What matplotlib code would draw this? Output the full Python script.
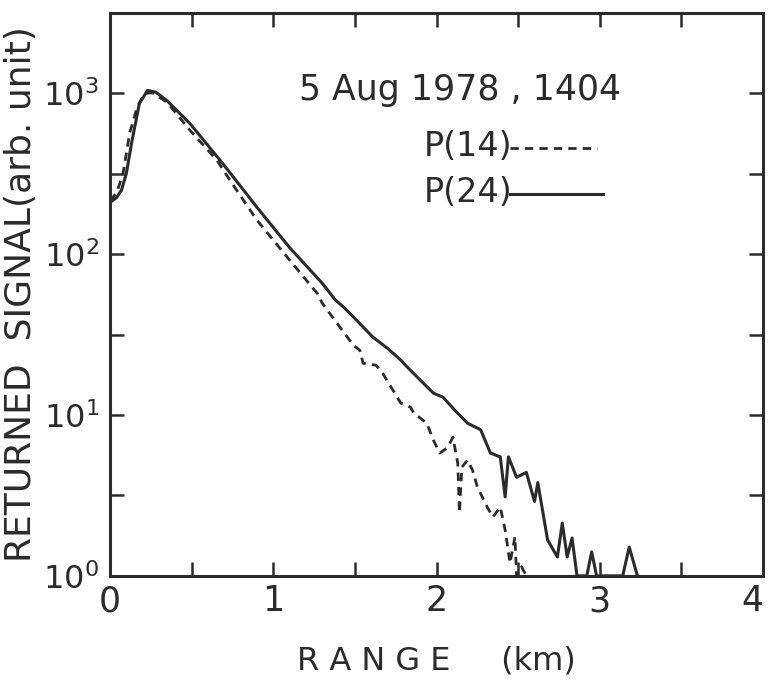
import numpy as np
import matplotlib
matplotlib.use('Agg')
import matplotlib.pyplot as plt
from matplotlib.ticker import FixedLocator, FixedFormatter

# Returned lidar signal
range_p24 = [0.0, 0.04, 0.07, 0.10, 0.135, 0.18, 0.23, 0.28, 0.35, 0.49, 0.69, 0.90,
             1.10, 1.30, 1.38, 1.43, 1.52, 1.61, 1.70, 1.78, 1.82, 1.90, 1.98, 2.04,
             2.12, 2.19, 2.27, 2.33, 2.39, 2.42, 2.44, 2.49, 2.55, 2.60, 2.62, 2.68,
             2.74, 2.77, 2.80, 2.83, 2.86, 2.92, 2.95, 2.98, 3.14, 3.18, 3.23]
sig_p24 = [210, 225, 250, 318, 510, 867, 1045, 1020, 900, 650, 367, 196,
           110, 66, 52, 47, 38, 30.5, 26, 22, 19.9, 16.5, 13.7, 12.9,
           10.5, 8.9, 8.1, 5.8, 5.5, 3.1, 5.5, 4.1, 4.4, 2.9, 3.8, 1.67,
           1.31, 2.13, 1.31, 1.72, 1.0, 1.0, 1.41, 1.0, 1.0, 1.51, 1.0]

range_p14 = [0.0, 0.04, 0.08, 0.12, 0.165, 0.21, 0.26, 0.35, 0.49, 0.655, 0.735, 0.90,
             1.10, 1.27, 1.30, 1.49, 1.53, 1.55, 1.63, 1.67, 1.78, 1.84, 1.86, 1.94,
             1.98, 2.02, 2.07, 2.10, 2.13, 2.14, 2.155, 2.19, 2.22, 2.25, 2.31, 2.345,
             2.39, 2.42, 2.45, 2.48, 2.49, 2.52, 2.55]
sig_p14 = [216, 240, 318, 565, 815, 1000, 1010, 880, 590, 384, 288, 163,
           92, 57, 49.6, 27.2, 25.3, 21, 20.4, 18.2, 11.9, 11.2, 10.3, 8.9,
           7.0, 5.8, 6.3, 7.3, 5.0, 2.46, 4.75, 5.25, 4.55, 3.57, 2.68, 2.32,
           2.68, 1.93, 1.2, 1.75, 1.0, 1.14, 1.0]

ink = '#2b2b2b'

fig = plt.figure(figsize=(7.72, 6.88), dpi=100)
ax = fig.add_axes([0.1425, 0.163, 0.846, 0.818])

ax.plot(range_p24, sig_p24, color=ink, lw=2.2, solid_joinstyle='round')
ax.plot(range_p14, sig_p14, color=ink, lw=2.0, linestyle=(0, (3.0, 2.2)))

ax.set_yscale('log')
ax.set_xlim(0, 4)
ax.set_ylim(1, 10 ** 3.5)

# ticks every half unit / half decade, pointing inward on all sides
ax.xaxis.set_major_locator(FixedLocator([0, 1, 2, 3, 4]))
ax.xaxis.set_minor_locator(FixedLocator([0.5, 1.5, 2.5, 3.5]))
ax.yaxis.set_major_locator(FixedLocator([1, 10, 100, 1000]))
ax.yaxis.set_minor_locator(FixedLocator([10 ** 0.5, 10 ** 1.5, 10 ** 2.5]))
ax.yaxis.set_major_formatter(FixedFormatter([r'$10^0$', r'$10^1$', r'$10^2$', r'$10^3$']))
ax.yaxis.set_minor_formatter(FixedFormatter(['', '', '']))
ax.tick_params(which='both', direction='in', top=True, right=True,
               length=10, width=1.8, color=ink, labelcolor=ink)
ax.tick_params(axis='x', which='major', labelsize=25, pad=6)
ax.tick_params(axis='y', which='major', labelsize=23, pad=8)

# last x label sits against the right edge, as in the original
fig.canvas.draw()
ax.get_xticklabels()[-1].set_horizontalalignment('right')

for sp in ax.spines.values():
    sp.set_linewidth(2.2)
    sp.set_color(ink)

ax.set_xlabel('R A N G E     (km)', fontsize=23, color=ink, labelpad=20)
ax.set_ylabel('RETURNED  SIGNAL(arb. unit)', fontsize=26, color=ink, labelpad=4)

ax.text(0.29, 0.863, '5 Aug 1978 , 1404', transform=ax.transAxes,
        fontsize=25, color=ink, va='center', ha='left')
ax.text(0.48, 0.763, 'P(14)', transform=ax.transAxes,
        fontsize=24, color=ink, va='center', ha='left')
ax.text(0.48, 0.681, 'P(24)', transform=ax.transAxes,
        fontsize=24, color=ink, va='center', ha='left')
ax.plot([0.612, 0.745], [0.76, 0.76], transform=ax.transAxes, color=ink,
        lw=2.0, linestyle=(0, (3.0, 2.2)))
ax.plot([0.612, 0.755], [0.678, 0.678], transform=ax.transAxes, color=ink, lw=2.2)

fig.savefig('out.png', dpi=100)
